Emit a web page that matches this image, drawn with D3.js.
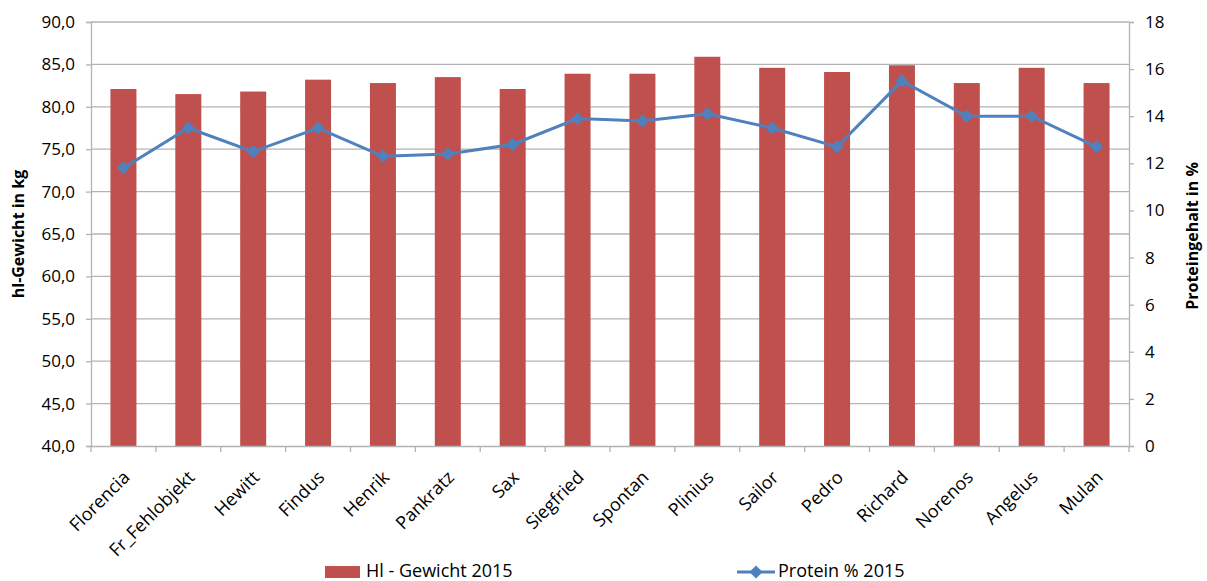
<!DOCTYPE html>
<html>
<head>
<meta charset="utf-8">
<script src="https://cdn.jsdelivr.net/npm/d3@7/dist/d3.min.js"></script>
<style>
  body { margin: 0; background: #fff; }
  text { font-family: "Open Sans", "Liberation Sans", sans-serif; fill: #000; }
</style>
</head>
<body>
<div id="wrap"></div>
<script>
var sorten = ["Florencia","Fr_Fehlobjekt","Hewitt","Findus","Henrik","Pankratz","Sax","Siegfried",
              "Spontan","Plinius","Sailor","Pedro","Richard","Norenos","Angelus","Mulan"];
var hlGewicht = [82.1, 81.5, 81.8, 83.2, 82.8, 83.5, 82.1, 83.9, 83.9, 85.9, 84.6, 84.1, 84.9, 82.8, 84.6, 82.8];
var protein = [11.8, 13.5, 12.5, 13.5, 12.3, 12.4, 12.8, 13.9, 13.8, 14.1, 13.5, 12.7, 15.5, 14.0, 14.0, 12.7];
var leftTicks = [40,45,50,55,60,65,70,75,80,85,90];
var rightTicks = [0,2,4,6,8,10,12,14,16,18];

var bar_color = "#c0504d";
var line_color = "#4f81bd";
var grid_color = "#b3b3b3";
var tick_size = "17px";

var pLeft = 91, pRight = 1129, pTop = 22, pBottom = 446;

var svg = d3.select('#wrap')
  .append('svg')
  .attr("width", 1207)
  .attr("height", 581);

var xb = d3.scaleBand().domain(sorten).range([pLeft, pRight]);
var y = d3.scaleLinear().domain([40, 90]).range([pBottom, pTop]);
var y2 = d3.scaleLinear().domain([0, 18]).range([pBottom, pTop]);

function cx(d) { return xb(d) + xb.bandwidth() / 2; }

// gridlines
svg.append("g").selectAll("line")
  .data(leftTicks.slice(1))
  .join("line")
  .attr("x1", pLeft).attr("x2", pRight)
  .attr("y1", function(d) { return y(d); }).attr("y2", function(d) { return y(d); })
  .attr("stroke", grid_color).attr("stroke-width", 1.3);

// bars
svg.append("g").selectAll("rect")
  .data(sorten)
  .join("rect")
  .attr("x", function(d) { return cx(d) - 13; })
  .attr("width", 26)
  .attr("y", function(d, i) { return y(hlGewicht[i]); })
  .attr("height", function(d, i) { return pBottom - y(hlGewicht[i]); })
  .attr("fill", bar_color);

// left axis
var gl = svg.append("g").attr("transform", "translate(" + pLeft + ",0)")
  .call(d3.axisLeft(y).tickValues(leftTicks).tickSize(5).tickPadding(11)
    .tickFormat(function(d) { return d3.format(".1f")(d).replace(".", ","); }));
gl.select(".domain").attr("stroke", grid_color).attr("stroke-width", 1.3);
gl.selectAll(".tick line").attr("stroke", grid_color).attr("stroke-width", 1.3);
gl.selectAll(".tick text").style("font-size", tick_size).attr("fill", "#000");

// right axis
var gr = svg.append("g").attr("transform", "translate(" + pRight + ",0)")
  .call(d3.axisRight(y2).tickValues(rightTicks).tickSize(5).tickPadding(11));
gr.select(".domain").attr("stroke", grid_color).attr("stroke-width", 1.3);
gr.selectAll(".tick line").attr("stroke", grid_color).attr("stroke-width", 1.3);
gr.selectAll(".tick text").style("font-size", tick_size).attr("fill", "#000");

// x axis
var gx = svg.append("g").attr("transform", "translate(0," + pBottom + ")")
  .call(d3.axisBottom(xb).tickSize(0).tickPadding(0));
gx.select(".domain").attr("stroke", grid_color).attr("stroke-width", 1.3);
gx.selectAll(".tick text").remove();
svg.append("g").selectAll("line")
  .data(d3.range(sorten.length + 1))
  .join("line")
  .attr("x1", function(i) { return pLeft + i * xb.bandwidth(); })
  .attr("x2", function(i) { return pLeft + i * xb.bandwidth(); })
  .attr("y1", pBottom).attr("y2", pBottom + 6)
  .attr("stroke", grid_color).attr("stroke-width", 1.3);

svg.append("g").selectAll("text")
  .data(sorten)
  .join("text")
  .attr("transform", function(d) {
    return "translate(" + (cx(d) + 3) + "," + (pBottom + 28) + ") rotate(-45)";
  })
  .attr("text-anchor", "end")
  .attr("dy", "0.35em")
  .style("font-size", "18px")
  .text(function(d) { return d; });

// protein line
var line = d3.line()
  .x(function(d, i) { return cx(sorten[i]); })
  .y(function(d) { return y2(d); });

svg.append("path")
  .datum(protein)
  .attr("d", line)
  .attr("fill", "none")
  .attr("stroke", line_color)
  .attr("stroke-width", 3);

var diamond = d3.symbol().type(d3.symbolDiamond2).size(110);
svg.append("g").selectAll("path")
  .data(protein)
  .join("path")
  .attr("transform", function(d, i) {
    return "translate(" + cx(sorten[i]) + "," + y2(d) + ")";
  })
  .attr("d", diamond)
  .attr("fill", line_color);

// axis titles
svg.append("text")
  .attr("transform", "translate(24,234) rotate(-90)")
  .attr("text-anchor", "middle")
  .style("font-size", "16px").style("font-weight", "bold")
  .text("hl-Gewicht in kg");

svg.append("text")
  .attr("transform", "translate(1198,236) rotate(-90)")
  .attr("text-anchor", "middle")
  .style("font-size", "16px").style("font-weight", "bold")
  .text("Proteingehalt in %");

// legend
svg.append("rect")
  .attr("x", 325).attr("y", 566).attr("width", 35).attr("height", 12)
  .attr("fill", bar_color);
svg.append("text")
  .attr("x", 366).attr("y", 577)
  .style("font-size", "18px")
  .text("Hl - Gewicht 2015");

svg.append("line")
  .attr("x1", 737).attr("x2", 775).attr("y1", 572).attr("y2", 572)
  .attr("stroke", line_color).attr("stroke-width", 3);
svg.append("path")
  .attr("transform", "translate(756,572)")
  .attr("d", diamond)
  .attr("fill", line_color);
svg.append("text")
  .attr("x", 778).attr("y", 577)
  .style("font-size", "18px")
  .text("Protein % 2015");
</script>
</body>
</html>
